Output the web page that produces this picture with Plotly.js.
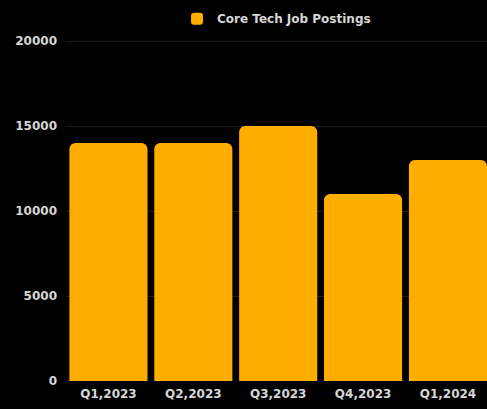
<!DOCTYPE html>
<html><head><meta charset="utf-8">
<script src="https://cdn.plot.ly/plotly-3.0.1.min.js"></script>
<style>html,body{margin:0;padding:0;background:#000;}</style>
</head><body><div id="chart" style="width:487px;height:409px;"></div>
<script>
const categories = ["Q1,2023","Q2,2023","Q3,2023","Q4,2023","Q1,2024"];
const postings = [14000, 14000, 15000, 11000, 13000];
const seriesName = "Core Tech Job Postings";
const yTicks = [0, 5000, 10000, 15000, 20000];

const fontFam = "'DejaVu Sans', sans-serif";
const tf = {family: fontFam, size: 12, color: "#d6d6d6", weight: "bold"};
Plotly.newPlot("chart", [{
  type: "bar",
  x: categories,
  y: postings,
  name: seriesName,
  marker: {color: "#FFAE00", cornerradius: 6, line: {width: 0}},
  hoverinfo: "none"
}], {
  width: 487, height: 409,
  paper_bgcolor: "#000", plot_bgcolor: "#000",
  margin: {l: 66, r: 0, t: 40, b: 28, pad: 0},
  bargap: 0.08,
  showlegend: true,
  legend: {orientation: "h", x: 0.5, xanchor: "center", y: 1.02, yanchor: "bottom",
           font: tf, bgcolor: "rgba(0,0,0,0)"},
  font: tf,
  xaxis: {range: [-0.5, 4.46], showgrid: false, zeroline: false, showline: false,
          tickfont: tf, ticks: "", ticklabelstandoff: 4, fixedrange: true},
  yaxis: {range: [0, 20060], tickvals: yTicks, ticktext: yTicks.map(String),
          showgrid: true, gridcolor: "#1c1c1c", gridwidth: 1, zeroline: false, showline: false,
          ticks: "", ticklabelstandoff: 8,
          tickfont: tf, fixedrange: true}
}, {displayModeBar: false, staticPlot: true});
</script></body></html>
